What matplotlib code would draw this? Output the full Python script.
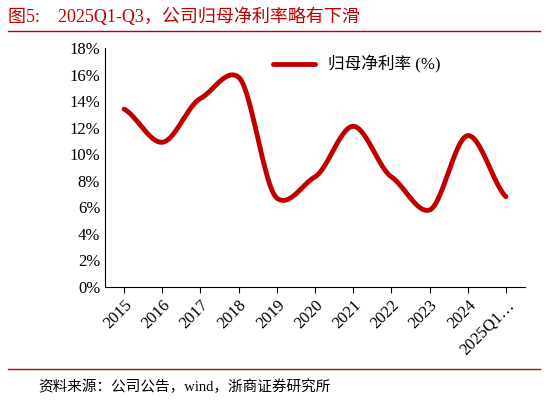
import numpy as np
import matplotlib
matplotlib.use('Agg')
import matplotlib.pyplot as plt

categories = ['2015','2016','2017','2018','2019','2020','2021','2022','2023','2024','2025Q1…']
values = [13.4, 10.9, 14.2, 15.8, 6.7, 8.3, 12.1, 8.3, 5.8, 11.4, 6.8]
yticks = [0,2,4,6,8,10,12,14,16,18]

plt.rcParams['font.family'] = ['Liberation Serif', 'Noto Sans CJK SC']
red = '#C00000'

fig = plt.figure(figsize=(5.48,4.03), dpi=100)
ax = fig.add_axes([105/548, 1-287/403, 420/548, 239/403])

x = np.arange(len(values)); y = np.array(values)
m = np.gradient(y) * 0.6
xs, ys = [], []
for i in range(len(x)-1):
    t = np.linspace(0,1,30)
    h00=2*t**3-3*t**2+1; h10=t**3-2*t**2+t; h01=-2*t**3+3*t**2; h11=t**3-t**2
    xs.extend(x[i]+t); ys.extend(h00*y[i]+h10*m[i]+h01*y[i+1]+h11*m[i+1])
ax.plot(xs, ys, color=red, lw=3.5, label='归母净利率 (%)', solid_capstyle='round')

ax.set_xlim(-0.5, len(x)-0.5)
ax.set_ylim(0,18)
ax.set_yticks(yticks)
ax.set_yticklabels([f'{v}%' for v in yticks], fontsize=12)
ax.set_xticks(x)
ax.set_xticklabels(categories, rotation=45, ha='right', rotation_mode='anchor', fontsize=12)
for s in ['top','right']: ax.spines[s].set_visible(False)
ax.tick_params(axis='y', length=0)
ax.tick_params(axis='x', length=4, direction='out')
ax.legend(loc='upper center', bbox_to_anchor=(0.6,1.03), frameon=False, fontsize=12, handlelength=2.5)

fig.text(8/548, 1-17/403, '图5:    2025Q1-Q3，公司归母净利率略有下滑', color=red, fontsize=13, va='center')
fig.add_artist(plt.Line2D([8/548, 540/548], [1-31/403]*2, color=red, lw=1))
fig.add_artist(plt.Line2D([8/548, 540/548], [1-369/403]*2, color=red, lw=1))
fig.text(38/548, 1-387/403, '资料来源：公司公告，wind，浙商证券研究所', fontsize=10.5, va='center')
fig.savefig('out.png', dpi=100)
